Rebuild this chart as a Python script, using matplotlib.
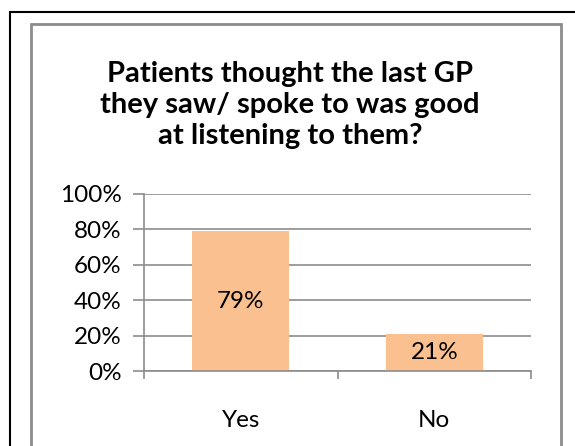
import matplotlib
matplotlib.use('Agg')
import matplotlib.pyplot as plt
from matplotlib.patches import Rectangle
from matplotlib.ticker import PercentFormatter

# data
categories = ['Yes', 'No']
shares = [79, 21]
bar_labels = ['79%', '21%']
title = 'Patients thought the last GP\nthey saw/ spoke to was good\nat listening to them?'

BAR = '#FAC08F'
GRID = '#8C8C8C'

plt.rcParams['font.family'] = ['Lato', 'DejaVu Sans']

fig = plt.figure(figsize=(5.75, 4.46), dpi=100)
W, H = 575, 446

# outer black frame and inner grey chart border (pixel coords)
fig.patches.append(Rectangle((10 / W, -0.1), 600 / W, (446 - 12) / H + 0.1,
                             transform=fig.transFigure, fill=False,
                             edgecolor='black', linewidth=1.5))
fig.patches.append(Rectangle((31 / W, -0.1), (561 - 31) / W, (446 - 24) / H + 0.1,
                             transform=fig.transFigure, fill=False,
                             edgecolor=GRID, linewidth=2))

fig.text(290 / W, 1 - 105 / H, title, ha='center', va='center',
         fontsize=21, fontweight='bold', linespacing=1.22)

ax = fig.add_axes([144 / W, 1 - 371 / H, (531 - 144) / W, (371 - 194) / H])
x = range(len(categories))
bars = ax.bar(x, shares, width=0.5, color=BAR, zorder=2)
for b, lab in zip(bars, bar_labels):
    ax.text(b.get_x() + b.get_width() / 2, b.get_height() / 2, lab,
            ha='center', va='center', fontsize=17.5, zorder=3)

ax.set_xlim(-0.5, 1.5)
ax.set_ylim(0, 100)
ax.set_yticks(range(0, 101, 20))
ax.yaxis.set_major_formatter(PercentFormatter(decimals=0))
ax.set_xticks(list(x))
ax.set_xticklabels(categories)
ax.set_xticks([-0.5, 0.5, 1.5], minor=True)
ax.tick_params(axis='x', which='major', length=0, pad=28, labelsize=17.5)
ax.tick_params(axis='x', which='minor', length=6, color=GRID, width=1.2)
ax.tick_params(axis='y', length=8, color=GRID, width=1.2, pad=8, labelsize=17.5)
ax.grid(axis='y', color=GRID, linewidth=1.2, zorder=1)
for s in ['top', 'right']:
    ax.spines[s].set_visible(False)
for s in ['left', 'bottom']:
    ax.spines[s].set_color(GRID)
    ax.spines[s].set_linewidth(1.2)

fig.savefig('out.png', dpi=100)
